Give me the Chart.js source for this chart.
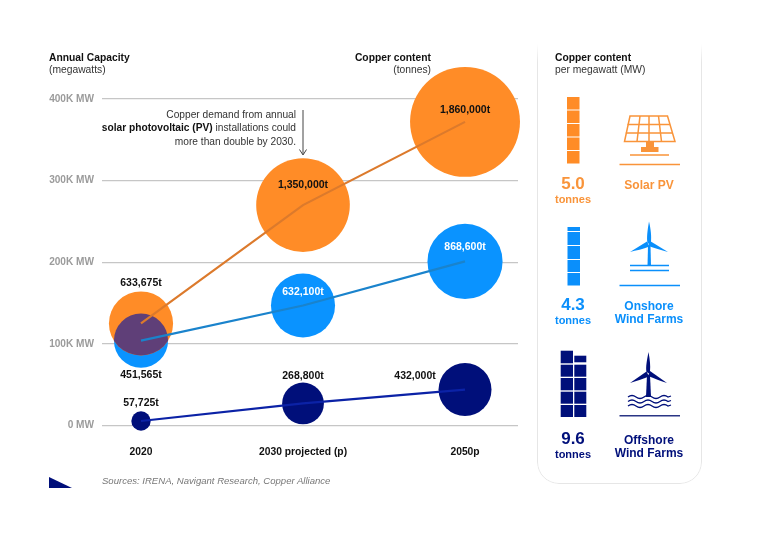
<!DOCTYPE html>
<html>
<head>
<meta charset="utf-8">
<script src="https://cdn.jsdelivr.net/npm/chart.js@4"></script>
<style>
html,body{margin:0;padding:0;background:#fff;width:758px;height:536px;overflow:hidden;font-family:"Liberation Sans",Arial,sans-serif}
#c{position:absolute;left:0;top:0}
.t{position:absolute;white-space:nowrap;line-height:13px;transform:translateY(-50%)}
.b{font-weight:700}.r{text-align:right}.m{text-align:center}
#panel{position:absolute;left:537px;top:36px;width:165px;height:447.5px;border:1.5px solid #e6e6e6;border-radius:0 0 22px 22px;box-sizing:border-box;box-shadow:0 1px 2px rgba(0,0,0,.06);
-webkit-mask-image:linear-gradient(to bottom,transparent 8px,#000 26px);mask-image:linear-gradient(to bottom,transparent 8px,#000 26px)}
svg{position:absolute;left:0;top:0;pointer-events:none}
</style>
</head>
<body>
<canvas id="c" width="758" height="536"></canvas>
<div id="panel"></div>
<svg width="758" height="536" viewBox="0 0 758 536">
  <!-- annotation arrow -->
  <path d="M303 110V154M299.5 149.5L303 155L306.5 149.5" fill="none" stroke="#444" stroke-width="1"/>
  <!-- corner mark -->
  <path d="M49 477L72 488H49Z" fill="#000F7A"/>
  <!-- solar blocks -->
  <g fill="#FF8C27">
    <rect x="567" y="97" width="12.5" height="12.5"/><rect x="567" y="110.5" width="12.5" height="12.5"/>
    <rect x="567" y="124" width="12.5" height="12.5"/><rect x="567" y="137.5" width="12.5" height="12.5"/>
    <rect x="567" y="151" width="12.5" height="12.5"/>
  </g>
  <!-- solar icon -->
  <g fill="none" stroke="#F9943A" stroke-width="1.5">
    <path d="M630 116H667.5L675 141.5H624.5Z"/>
    <path d="M627.5 124.5H670M625.8 133H672.5M640 116L637 141.5M649 116V141.5M658.5 116L661.5 141.5"/>
  </g>
  <path d="M646 141.5H654V147H658.5V152H641V147H646Z" fill="#F9943A"/>
  <path d="M630 155H669M619.5 164.5H680" stroke="#F9943A" stroke-width="1.6"/>
  <!-- onshore blocks -->
  <g fill="#0A8FFB">
    <rect x="567.5" y="227" width="12.5" height="4"/><rect x="567.5" y="232" width="12.5" height="13"/>
    <rect x="567.5" y="246" width="12.5" height="13"/><rect x="567.5" y="260" width="12.5" height="12"/>
    <rect x="567.5" y="273" width="12.5" height="12.5"/>
  </g>
  <!-- onshore turbine -->
  <g fill="#0A8FFB">
    <path d="M648 246L650.5 246L651 266H647.5Z"/>
    <path d="M649 221.5C651 230 651.5 236 651 242L651 245L647.5 243C646.5 238 647.5 230 649 221.5Z"/>
    <path d="M630 252L647 241.5L649.5 246.5C643 249 636 250.5 630 252Z"/>
    <path d="M668 252L650 241L648.5 246C654 248 661 250 668 252Z"/>
  </g>
  <path d="M630 265.5H669M630 270.5H669M619.5 285.5H680" stroke="#0A8FFB" stroke-width="1.4"/>
  <!-- offshore blocks -->
  <g fill="#000F7A">
    <rect x="560.7" y="350.7" width="12.3" height="12.6"/><rect x="574.3" y="355.7" width="12" height="6.6"/>
    <rect x="560.7" y="364.7" width="12.3" height="12"/><rect x="574.3" y="364.7" width="12" height="12"/>
    <rect x="560.7" y="378" width="12.3" height="12.3"/><rect x="574.3" y="378" width="12" height="12.3"/>
    <rect x="560.7" y="391.7" width="12.3" height="12"/><rect x="574.3" y="391.7" width="12" height="12"/>
    <rect x="560.7" y="405" width="12.3" height="12"/><rect x="574.3" y="405" width="12" height="12"/>
  </g>
  <!-- offshore turbine -->
  <g fill="#000F7A">
    <path d="M647 375L650 375L651 397H646Z"/>
    <path d="M648.5 352C650 360 650.5 366 650 371L650 374L646.5 372C645.5 367 647 360 648.5 352Z"/>
    <path d="M630 383L646.5 371.5L649 376.5C643 379 636 381 630 383Z"/>
    <path d="M667 383L650 371L648 376C654 378.5 661 381 667 383Z"/>
  </g>
  <g fill="none" stroke="#000F7A" stroke-width="1.3">
    <path d="M628 397Q632 394 636 397T644 397T652 397T660 397T668 397L671 396"/>
    <path d="M628 401.5Q632 398.5 636 401.5T644 401.5T652 401.5T660 401.5T668 401.5L671 400.5"/>
    <path d="M628 406Q632 403 636 406T644 406T652 406T660 406T668 406L671 405"/>
  </g>
  <path d="M619.5 415.7H680" stroke="#2A3585" stroke-width="1.4"/>
</svg>

<div class="t b" style="left:49px;top:57px;font-size:10.3px;color:#111">Annual Capacity</div>
<div class="t" style="left:49px;top:68.5px;font-size:10.3px;color:#333">(megawatts)</div>
<div class="t b r" style="right:327px;top:57px;font-size:10.3px;color:#111">Copper content</div>
<div class="t r" style="right:327px;top:68.5px;font-size:10.3px;color:#333">(tonnes)</div>
<div class="t r" style="right:462px;top:113.5px;font-size:10.2px;color:#333">Copper demand from annual</div>
<div class="t r" style="right:462px;top:127px;font-size:10.2px;color:#333"><span class="b" style="color:#111">solar photovoltaic (PV)</span> installations could</div>
<div class="t r" style="right:462px;top:140.5px;font-size:10.2px;color:#333">more than double by 2030.</div>
<div class="t" style="left:102px;top:479.5px;font-size:9.55px;font-style:italic;color:#777">Sources: IRENA, Navigant Research, Copper Alliance</div>

<div class="t b" style="left:555px;top:57px;font-size:10.3px;color:#111">Copper content</div>
<div class="t" style="left:555px;top:68.5px;font-size:10.3px;color:#333">per megawatt (MW)</div>

<div class="t b m" style="left:543px;width:60px;top:183px;font-size:17px;color:#F9943A">5.0</div>
<div class="t b m" style="left:543px;width:60px;top:199px;font-size:11px;color:#F9943A">tonnes</div>
<div class="t b m" style="left:609px;width:80px;top:185px;font-size:12px;color:#F9943A">Solar PV</div>

<div class="t b m" style="left:543px;width:60px;top:304px;font-size:17px;color:#0A8FFB">4.3</div>
<div class="t b m" style="left:543px;width:60px;top:320px;font-size:11px;color:#0A8FFB">tonnes</div>
<div class="t b m" style="left:609px;width:80px;top:306px;font-size:12px;color:#0A8FFB">Onshore</div>
<div class="t b m" style="left:609px;width:80px;top:319px;font-size:12px;color:#0A8FFB">Wind Farms</div>

<div class="t b m" style="left:543px;width:60px;top:438px;font-size:17px;color:#000F7A">9.6</div>
<div class="t b m" style="left:543px;width:60px;top:454px;font-size:11px;color:#000F7A">tonnes</div>
<div class="t b m" style="left:609px;width:80px;top:440px;font-size:12px;color:#000F7A">Offshore</div>
<div class="t b m" style="left:609px;width:80px;top:453px;font-size:12px;color:#000F7A">Wind Farms</div>

<script>
const categories = ["2020", "2030 projected (p)", "2050p"];
const yTickValues = [0, 100000, 200000, 300000, 400000];
const solarCapacity = [125000, 270000, 372000];
const onshoreCapacity = [104000, 147000, 201000];
const offshoreCapacity = [5500, 27000, 44000];
const solarTonnes = [633675, 1350000, 1860000];
const onshoreTonnes = [451565, 632100, 868600];
const offshoreTonnes = [57725, 268800, 432000];

const FONT = '"Liberation Sans", Arial, sans-serif';
const ORANGE = '#FF8C27', BLUE = '#0A93FF', NAVY = '#000F7A', PURPLE = '#5F3F78';
const radiusOf = t => 0.0403 * Math.sqrt(t);   // bubble area proportional to tonnes

const bubbles = (cap, tons) => cap.map((y, i) => ({ x: i, y, r: radiusOf(tons[i]), tonnes: tons[i] }));
const path = cap => cap.map((y, i) => ({ x: i, y }));

// Where each copper label sits relative to its bubble
const labelRules = {
  Solar:    [{ side: 'above', gap: 8 }, { dy: -20 }, { dy: -11.5 }],
  Onshore:  [{ side: 'below', gap: 7 }, { dy: -13, color: '#fff' }, { dy: -14, color: '#fff' }],
  Offshore: [{ side: 'above', gap: 8.5 }, { side: 'above', gap: 6 }, { dx: -50, dy: -13 }]
};

const overlapAndLabels = {
  id: 'overlapAndLabels',
  afterDatasetDraw(chart, args) {
    if (chart.data.datasets[args.index].label !== 'Solar') return;
    const blue = chart.getDatasetMeta(1).data[0], orange = chart.getDatasetMeta(0).data[0];
    const ctx = chart.ctx;
    ctx.save();
    ctx.beginPath();
    ctx.arc(orange.x, orange.y, orange.options.radius, 0, Math.PI * 2);
    ctx.clip();
    ctx.beginPath();
    ctx.arc(blue.x, blue.y, blue.options.radius, 0, Math.PI * 2);
    ctx.fillStyle = PURPLE;
    ctx.fill();
    ctx.restore();
  },
  afterDraw(chart) {
    const ctx = chart.ctx;
    ctx.save();
    ctx.font = 'bold 10.5px ' + FONT;
    ctx.textAlign = 'center';
    ctx.textBaseline = 'middle';
    [0, 1, 2].forEach(d => {
      const ds = chart.data.datasets[d];
      chart.getDatasetMeta(d).data.forEach((el, i) => {
        const rule = labelRules[ds.label][i];
        const r = el.options.radius;
        let x = el.x + (rule.dx || 0), y = el.y + (rule.dy || 0);
        if (rule.side === 'above') y = el.y - r - rule.gap;
        if (rule.side === 'below') y = el.y + r + rule.gap;
        ctx.fillStyle = rule.color || '#111';
        ctx.fillText(ds.data[i].tonnes.toLocaleString('en-US') + 't', x, y);
      });
    });
    ctx.restore();
  }
};

new Chart(document.getElementById('c'), {
  type: 'bubble',
  plugins: [overlapAndLabels],
  data: {
    datasets: [
      { type: 'bubble', label: 'Solar', data: bubbles(solarCapacity, solarTonnes), backgroundColor: ORANGE, borderWidth: 0, hoverBorderWidth: 0, clip: false, order: 2 },
      { type: 'bubble', label: 'Onshore', data: bubbles(onshoreCapacity, onshoreTonnes), backgroundColor: BLUE, borderWidth: 0, clip: false, order: 3 },
      { type: 'bubble', label: 'Offshore', data: bubbles(offshoreCapacity, offshoreTonnes), backgroundColor: NAVY, borderWidth: 0, clip: false, order: 3 },
      { type: 'line', label: 'Solar PV', data: path(solarCapacity), borderColor: '#DC7A2C', borderWidth: 2.2, pointRadius: 0, tension: 0, clip: false, order: 1 },
      { type: 'line', label: 'Onshore Wind Farms', data: path(onshoreCapacity), borderColor: '#1A83CC', borderWidth: 2.2, pointRadius: 0, tension: 0, clip: false, order: 1 },
      { type: 'line', label: 'Offshore Wind Farms', data: path(offshoreCapacity), borderColor: '#0B22A6', borderWidth: 2.2, pointRadius: 0, tension: 0, clip: false, order: 1 }
    ]
  },
  options: {
    responsive: false,
    animation: false,
    events: [],
    layout: { padding: { left: 0, top: 99, right: 240, bottom: 78 } },
    plugins: { legend: { display: false }, tooltip: { enabled: false } },
    scales: {
      x: {
        type: 'linear',
        min: -0.2407,
        max: 2.327,
        afterBuildTicks: s => { s.ticks = categories.map((_, i) => ({ value: i })); },
        afterFit: s => { s.height = 32.5; },
        grid: { display: false },
        border: { display: false },
        ticks: {
          callback: v => categories[v],
          autoSkip: false, maxRotation: 0, padding: 12,
          color: '#111', font: { family: FONT, size: 10.3, weight: 'bold' }
        }
      },
      y: {
        min: 0,
        max: 400000,
        afterBuildTicks: s => { s.ticks = yTickValues.map(value => ({ value })); },
        afterFit: s => { s.width = 102; },
        grid: { color: '#c6c6c6', lineWidth: 1.3, drawTicks: false },
        border: { display: false },
        ticks: {
          callback: v => (v === 0 ? '0 MW' : (v / 1000) + 'K MW'),
          padding: 8,
          color: '#9b9b9b', font: { family: FONT, size: 10.1, weight: 'bold' }
        }
      }
    }
  }
});
</script>
</body>
</html>
